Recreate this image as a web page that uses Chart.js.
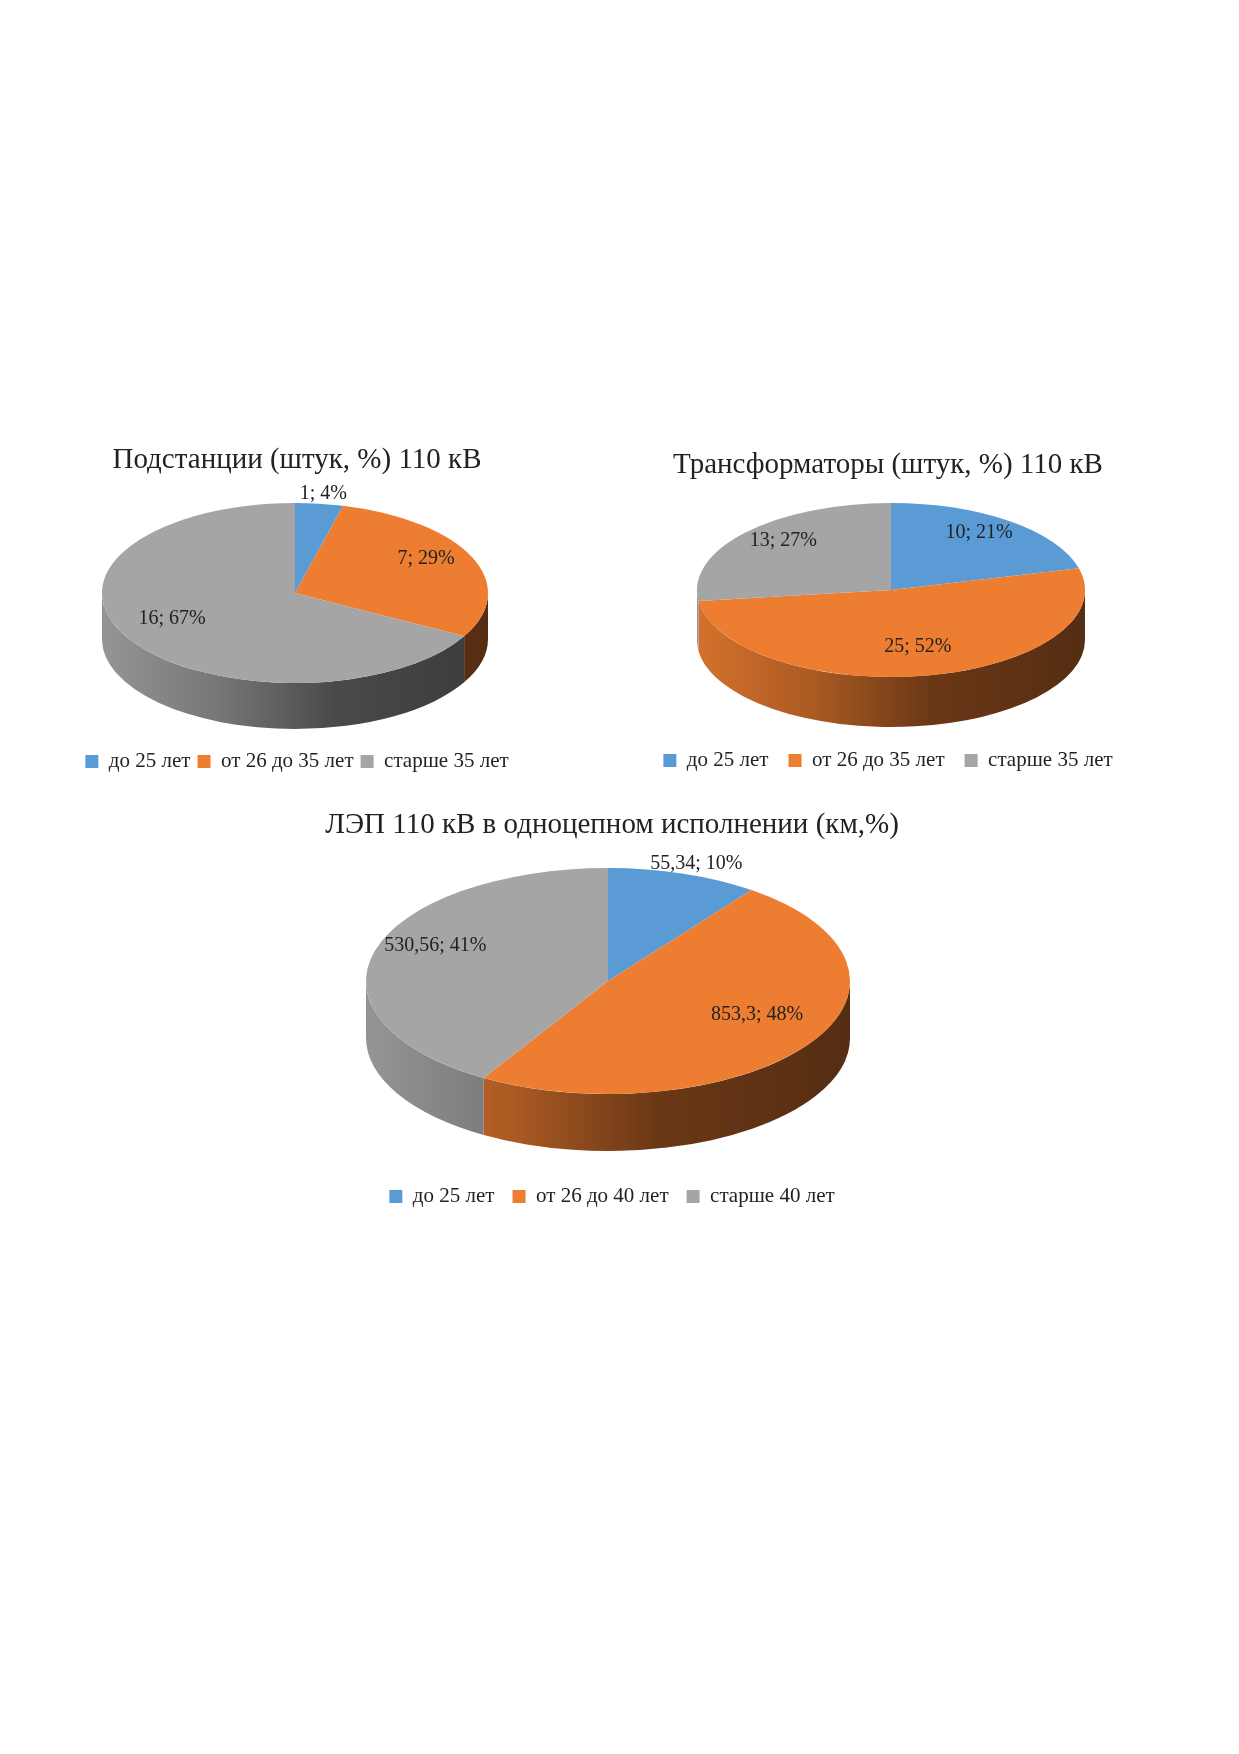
<!DOCTYPE html>
<html>
<head>
<meta charset="utf-8">
<script src="https://cdn.jsdelivr.net/npm/chart.js@4/dist/chart.umd.min.js"></script>
<style>
  body { margin: 0; background: #fff; width: 1239px; height: 1754px; position: relative; overflow: hidden; }
  .box { position: absolute; }
</style>
</head>
<body>
<div class="box" style="left:57px;top:439px;width:480px;height:343px"><canvas id="c1"></canvas></div>
<div class="box" style="left:608px;top:444px;width:560px;height:337px"><canvas id="c2"></canvas></div>
<div class="box" style="left:302px;top:804px;width:620px;height:413px"><canvas id="c3"></canvas></div>
<script>
var ageLabels35 = ['до 25 лет', 'от 26 до 35 лет', 'старше 35 лет'];
var ageLabels40 = ['до 25 лет', 'от 26 до 40 лет', 'старше 40 лет'];

var substationCounts = [1, 7, 16];
var substationShares = [4, 29, 67];

var transformerCounts = [10, 25, 13];
var transformerShares = [21, 52, 27];

var lineKm = [55.34, 853.3, 530.56];
var lineShares = [10, 48, 41];

var sliceColors = ['#5b9bd5', '#ed7d31', '#a5a5a5'];
var serif = '"Liberation Serif", "Times New Roman", serif';

function shade(hex, k) {
  var n = parseInt(hex.slice(1), 16);
  var r = Math.round(((n >> 16) & 255) * k), g = Math.round(((n >> 8) & 255) * k), b = Math.round((n & 255) * k);
  return 'rgb(' + r + ',' + g + ',' + b + ')';
}

function fmt(v) {
  return String(v).replace('.', ',');
}

// squashes the pie into an ellipse and draws the front wall under it
var pie3d = {
  id: 'pie3d',
  beforeDatasetsDraw(chart, args, o) {
    var ctx = chart.ctx;
    var meta = chart.getDatasetMeta(0);
    var colors = chart.data.datasets[0].backgroundColor;
    meta.data.forEach(function (arc, i) {
      var a1 = Math.max(arc.startAngle, 0);
      var a2 = Math.min(arc.endAngle, Math.PI);
      if (a1 >= a2) return;
      var g = ctx.createLinearGradient(o.cx - o.rx, 0, o.cx + o.rx, 0);
      g.addColorStop(0, shade(colors[i], 0.9));
      g.addColorStop(0.3, shade(colors[i], 0.72));
      g.addColorStop(0.6, shade(colors[i], 0.45));
      g.addColorStop(1, shade(colors[i], 0.36));
      ctx.beginPath();
      ctx.ellipse(o.cx, o.cy, o.rx, o.ry, 0, a1, a2);
      ctx.ellipse(o.cx, o.cy + o.depth, o.rx, o.ry, 0, a2, a1, true);
      ctx.closePath();
      ctx.fillStyle = g;
      ctx.fill();
    });
    var a0 = meta.data[0];
    ctx.save();
    ctx.translate(o.cx, o.cy);
    ctx.scale(o.rx / a0.outerRadius, o.ry / a0.outerRadius);
    ctx.translate(-a0.x, -a0.y);
  },
  afterDatasetsDraw(chart, args, o) {
    var ctx = chart.ctx;
    ctx.restore();
    var ds = chart.data.datasets[0];
    var meta = chart.getDatasetMeta(0);
    ctx.save();
    ctx.font = '20px ' + serif;
    ctx.fillStyle = '#222';
    ctx.textAlign = 'center';
    ctx.textBaseline = 'middle';
    meta.data.forEach(function (arc, i) {
      var mid = (arc.startAngle + arc.endAngle) / 2;
      var f = ds.data[i] < 15 ? 1.17 : 0.74;
      ctx.fillText(fmt(ds.amounts[i]) + '; ' + ds.data[i] + '%',
        o.cx + f * o.rx * Math.cos(mid), o.cy + f * o.ry * Math.sin(mid) - o.lift * (1 - f));
    });
    ctx.restore();
  }
};

function makePie(id, title, legendGap, labels, amounts, shares, geo) {
  return new Chart(document.getElementById(id), {
    type: 'pie',
    data: {
      labels: labels,
      datasets: [{
        data: shares,
        amounts: amounts,
        backgroundColor: sliceColors,
        borderWidth: 0,
        clip: false
      }]
    },
    options: {
      responsive: true,
      maintainAspectRatio: false,
      animation: false,
      events: [],
      plugins: {
        pie3d: geo,
        tooltip: { enabled: false },
        title: {
          display: true,
          text: title,
          color: '#222',
          font: { family: serif, size: 29, weight: 'normal' },
          padding: { top: 4, bottom: 10 }
        },
        legend: {
          position: 'bottom',
          labels: {
            color: '#222',
            font: { family: serif, size: 21 },
            boxWidth: 13,
            boxHeight: 13,
            padding: legendGap
          }
        }
      }
    },
    plugins: [pie3d]
  });
}

makePie('c1', 'Подстанции (штук, %) 110 кВ', 7, ageLabels35, substationCounts, substationShares,
  { cx: 238, cy: 154, rx: 193, ry: 90, depth: 46, lift: 30 });
makePie('c2', 'Трансформаторы (штук, %) 110 кВ', 20, ageLabels35, transformerCounts, transformerShares,
  { cx: 283, cy: 146, rx: 194, ry: 87, depth: 50, lift: 25 });
makePie('c3', 'ЛЭП 110 кВ в одноцепном исполнении (км,%)', 18, ageLabels40, lineKm, lineShares,
  { cx: 306, cy: 177, rx: 242, ry: 113, depth: 57, lift: 50 });
</script>
</body>
</html>
